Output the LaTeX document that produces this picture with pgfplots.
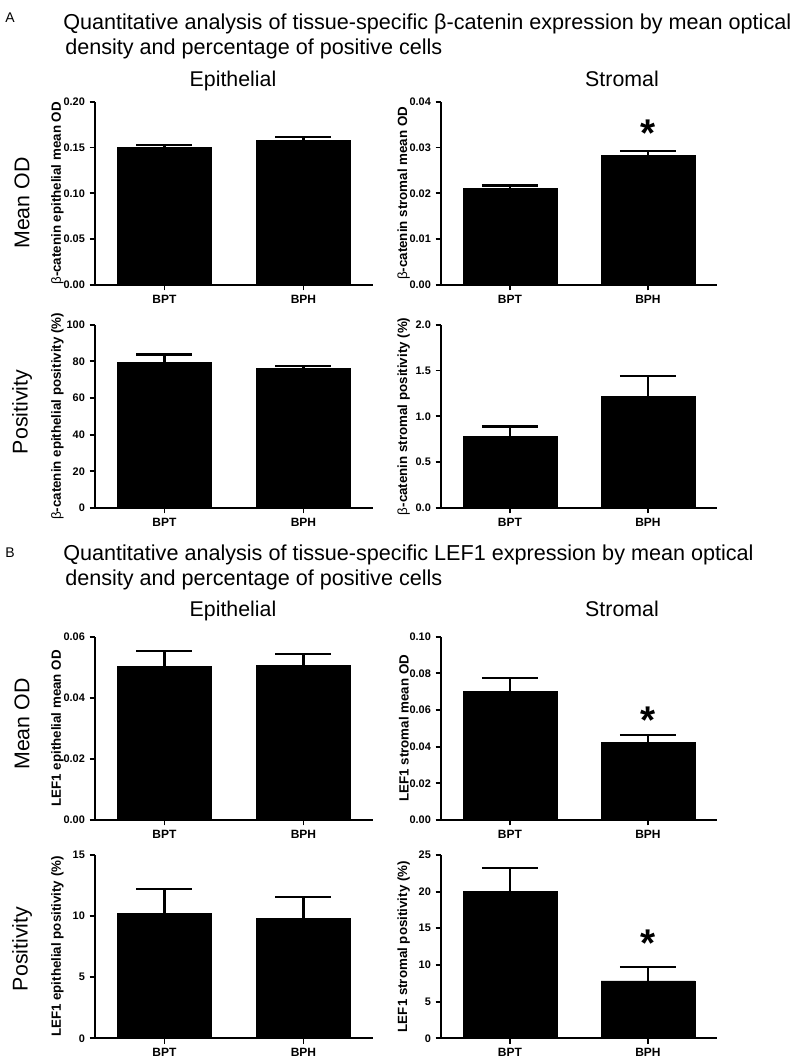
\documentclass[border=0pt]{standalone}
\usepackage{fontspec}
\setmainfont{Liberation Sans}
\usepackage{pgfplots}
\pgfplotsset{compat=1.18}

\pgfplotsset{
 gp/.style={
  scale only axis, height=137.5pt,
  xmin=-0.5, xmax=1.5, ymin=0,
  axis x line=bottom, axis y line=left,
  axis line style={-, line width=1.6pt},
  xtick={0,1}, xticklabels={BPT,BPH},
  every tick/.style={black, line width=1.4pt},
  major tick length=4pt,
  tick align=outside,
  ybar, bar width=0.68,
  /pgf/number format/assume math mode=true,
  xticklabel style={font=\fontsize{9}{10}\selectfont\bfseries},
  yticklabel style={font=\fontsize{8.2}{10}\selectfont\bfseries, inner sep=0.8pt, xshift=-2.6pt},
  ylabel style={font=\fontsize{10}{11}\selectfont\bfseries, at={(axis description cs:-0.135,0.5)}, anchor=center},
  scaled y ticks=false,
  yticklabel style={/pgf/number format/.cd, fixed, fixed zerofill, precision=2},
  clip=false,
 },
 barsty/.style={fill=black, draw=black, line width=0.5pt,
  error bars/.cd, y dir=plus, y explicit,
  error bar style={line width=1.8pt, black},
  error mark options={rotate=90, line width=1.8pt, black, mark size=21pt}},
}
\tikzset{starnode/.style={anchor=north, inner sep=0pt, font=\fontsize{29}{29}\selectfont\bfseries}}

\begin{document}
\begin{tikzpicture}
\path (0,0) rectangle (600pt,-795.75pt);

% ---- Panel A text ----
\node[font=\fontsize{10.5}{12}\selectfont] at (7.5pt,-13.5pt) {A};
\node[anchor=base west, inner sep=0pt, font=\fontsize{16.2}{18}\selectfont] at (47.25pt,-22.1pt) {Quantitative analysis of tissue-specific β-catenin expression by mean optical};
\node[anchor=base west, inner sep=0pt, font=\fontsize{16.2}{18}\selectfont] at (48.75pt,-40.9pt) {density and percentage of positive cells};
\node[anchor=base, inner sep=0pt, font=\fontsize{16}{18}\selectfont] at (174.75pt,-64.5pt) {Epithelial};
\node[anchor=base, inner sep=0pt, font=\fontsize{16}{18}\selectfont] at (466.5pt,-64.5pt) {Stromal};
\node[rotate=90, font=\fontsize{16}{18}\selectfont] at (16.5pt,-152.25pt) {Mean OD};
\node[rotate=90, font=\fontsize{16}{18}\selectfont] at (16.5pt,-309pt) {Positivity};

% ---- Panel B text ----
\node[font=\fontsize{10.5}{12}\selectfont] at (7.5pt,-414.5pt) {B};
\node[anchor=base west, inner sep=0pt, font=\fontsize{16.2}{18}\selectfont] at (47.25pt,-420pt) {Quantitative analysis of tissue-specific LEF1 expression by mean optical};
\node[anchor=base west, inner sep=0pt, font=\fontsize{16.2}{18}\selectfont] at (48.75pt,-438.75pt) {density and percentage of positive cells};
\node[anchor=base, inner sep=0pt, font=\fontsize{16}{18}\selectfont] at (174.75pt,-462pt) {Epithelial};
\node[anchor=base, inner sep=0pt, font=\fontsize{16}{18}\selectfont] at (466.5pt,-462pt) {Stromal};
\node[rotate=90, font=\fontsize{16}{18}\selectfont] at (16.5pt,-543pt) {Mean OD};
\node[rotate=90, font=\fontsize{16}{18}\selectfont] at (16.5pt,-711.75pt) {Positivity};

% A1 left
\begin{axis}[gp, width=208.5pt, at={(71.25pt,-213.75pt)}, anchor=south west,
  ymax=0.20, ytick={0,0.05,0.10,0.15,0.20},
  ylabel={{\mdseries β}-catenin epithelial mean OD}]
\addplot[barsty] coordinates {(0,0.150) +- (0,0.003) (1,0.158) +- (0,0.0035)};
\end{axis}

% A1 right
\begin{axis}[gp, width=207pt, at={(330.75pt,-213.75pt)}, anchor=south west,
  ymax=0.04, ytick={0,0.01,0.02,0.03,0.04},
  ylabel={{\mdseries β}-catenin stromal mean OD}]
\addplot[barsty] coordinates {(0,0.0211) +- (0,0.0006) (1,0.0282) +- (0,0.0011)};
\node[starnode] at (axis cs:1,0.036) {*};
\end{axis}

% A2 left
\begin{axis}[gp, width=208.5pt, at={(71.25pt,-381pt)}, anchor=south west,
  ymax=100, ytick={0,20,40,60,80,100},
  yticklabel style={/pgf/number format/precision=0},
  ylabel={{\mdseries β}-catenin epithelial positivity (\%)}]
\addplot[barsty] coordinates {(0,79.6) +- (0,4.2) (1,76.0) +- (0,1.4)};
\end{axis}

% A2 right
\begin{axis}[gp, width=207pt, at={(330.75pt,-381pt)}, anchor=south west,
  ymax=2.0, ytick={0,0.5,1.0,1.5,2.0},
  yticklabel style={/pgf/number format/precision=1},
  ylabel={{\mdseries β}-catenin stromal positivity (\%)}]
\addplot[barsty] coordinates {(0,0.78) +- (0,0.11) (1,1.22) +- (0,0.22)};
\end{axis}

% B1 left
\begin{axis}[gp, width=208.5pt, at={(71.25pt,-615pt)}, anchor=south west,
  ymax=0.06, ytick={0,0.02,0.04,0.06},
  ylabel={LEF1 epithelial mean OD}]
\addplot[barsty] coordinates {(0,0.0504) +- (0,0.0050) (1,0.0506) +- (0,0.0037)};
\end{axis}

% B1 right
\begin{axis}[gp, width=207pt, at={(330.75pt,-615pt)}, anchor=south west,
  ymax=0.10, ytick={0,0.02,0.04,0.06,0.08,0.10},
  ylabel={LEF1 stromal mean OD}]
\addplot[barsty] coordinates {(0,0.070) +- (0,0.0076) (1,0.0422) +- (0,0.0042)};
\node[starnode] at (axis cs:1,0.0618) {*};
\end{axis}

% B2 left
\begin{axis}[gp, width=208.5pt, at={(71.25pt,-778.7pt)}, anchor=south west,
  ymax=15, ytick={0,5,10,15},
  yticklabel style={/pgf/number format/precision=0},
  ylabel={LEF1 epithelial positivity (\%)}]
\addplot[barsty] coordinates {(0,10.23) +- (0,2.0) (1,9.84) +- (0,1.7)};
\end{axis}

% B2 right
\begin{axis}[gp, width=207pt, at={(330.75pt,-778.7pt)}, anchor=south west,
  ymax=25, ytick={0,5,10,15,20,25},
  yticklabel style={/pgf/number format/precision=0},
  ylabel={LEF1 stromal positivity (\%)}]
\addplot[barsty] coordinates {(0,20.0) +- (0,3.2) (1,7.81) +- (0,1.87)};
\node[starnode] at (axis cs:1,14.77) {*};
\end{axis}
\end{tikzpicture}
\end{document}
